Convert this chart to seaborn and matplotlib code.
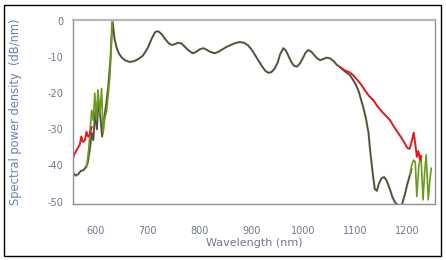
import numpy as np
import pandas as pd
import matplotlib
matplotlib.use("Agg")
import matplotlib.pyplot as plt
from matplotlib.patches import Rectangle
import seaborn as sns

# ---------------- data ----------------
# main (dark) spectrum: wavelength (nm) / spectral power density (dB/nm)
dark_wl = [556, 561, 566, 571, 576, 580, 584, 588, 592, 595, 599, 602, 605, 609, 612,
           616, 620, 624, 628, 630, 632, 636, 640, 645, 650, 657, 665, 673, 682, 691,
           700, 708, 714, 718, 722, 727, 733, 740, 746, 752, 758, 765, 772, 780, 787,
           793, 800, 807, 813, 820, 829, 836, 844, 852, 860, 868, 877, 885, 893, 900,
           907, 913, 920, 926, 932, 938, 944, 950, 955, 961, 966, 971, 976, 981, 987,
           993, 999, 1004, 1009, 1015, 1021, 1027, 1032, 1038, 1044, 1051, 1058, 1064,
           1070, 1076, 1082, 1089, 1095, 1100, 1106, 1111, 1115, 1120, 1125, 1128, 1133,
           1137, 1141, 1145, 1150, 1155, 1160, 1166, 1171, 1176, 1182, 1189, 1195, 1200,
           1205, 1208]
dark_db = [-42.0, -42.8, -42.4, -41.5, -41.3, -40.6, -39.5, -36.0, -31.0, -33.0, -25.0,
           -30.0, -22.0, -27.0, -32.0, -27.0, -23.0, -18.0, -11.0, -5.0, 0.0, -5.0, -7.5,
           -9.2, -10.2, -11.0, -11.4, -11.2, -10.6, -9.6, -7.5, -4.8, -3.2, -2.9, -3.1,
           -3.8, -5.0, -6.2, -6.7, -6.5, -6.1, -6.3, -7.3, -8.4, -9.0, -8.6, -7.9, -7.6,
           -8.0, -8.6, -9.0, -8.6, -7.9, -7.2, -6.7, -6.2, -5.9, -6.1, -6.8, -8.0, -9.6,
           -11.0, -12.6, -13.8, -14.4, -14.2, -13.3, -11.6, -9.2, -7.6, -8.3, -9.8, -11.3,
           -12.4, -12.7, -11.8, -10.2, -8.8, -8.1, -8.6, -9.6, -10.5, -10.9, -10.6, -10.2,
           -10.4, -11.2, -12.2, -12.8, -13.6, -14.3, -15.0, -16.3, -17.5, -19.5, -22.0,
           -24.0, -27.0, -31.0, -35.7, -42.0, -46.5, -47.0, -45.0, -43.5, -43.2, -44.2,
           -46.5, -48.7, -50.2, -51.0, -51.0, -48.0, -45.0, -42.5, -41.0]

# green spectrum: short-wavelength edge and long-wavelength tail
green_left_wl = [582, 586, 589, 592, 595, 598, 601, 604, 608, 611, 614, 617, 621, 624, 627, 630, 632]
green_left_db = [-40.5, -36.0, -30.0, -24.7, -27.5, -20.0, -27.5, -19.1, -25.6, -18.7,
                 -31.1, -27.0, -24.7, -20.0, -15.5, -6.0, 0.0]
green_right_wl = [1205, 1208, 1212, 1215, 1218, 1222, 1226, 1230, 1233, 1236, 1240, 1243, 1246]
green_right_db = [-42.5, -40.0, -38.5, -39.0, -48.6, -40.0, -37.1, -49.5, -42.0, -37.0,
                  -49.5, -44.0, -40.7]

# red spectrum: short-wavelength edge and slow long-wavelength decay
red_left_wl = [556, 559, 563, 566, 569, 572, 575, 579, 582, 585, 588, 592]
red_left_db = [-38.0, -36.8, -35.7, -35.0, -34.3, -32.0, -33.5, -33.0, -30.7, -32.0, -31.6, -29.3]
red_right_wl = [1070, 1080, 1089, 1095, 1100, 1109, 1118, 1126, 1134, 1142, 1150, 1158,
                1166, 1174, 1182, 1189, 1195, 1200, 1204, 1208, 1212, 1215, 1218, 1221,
                1224, 1227]
red_right_db = [-12.8, -13.8, -14.3, -15.0, -15.8, -17.3, -19.2, -20.8, -21.9, -23.6,
                -25.0, -26.2, -27.4, -29.3, -31.0, -32.5, -33.9, -35.2, -35.4, -33.5,
                -30.9, -34.0, -37.6, -36.0, -38.5, -37.5]

x_ticks = [600, 700, 800, 900, 1000, 1100, 1200]
y_ticks = [0, -10, -20, -30, -40, -50]
x_label = "Wavelength (nm)"
y_label = "Spectral power density  (dB/nm)"

# ---------------- long-form table ----------------
frames = []
for series, segs in [("dark", [(dark_wl, dark_db)]),
                     ("green", [(green_left_wl, green_left_db), (green_right_wl, green_right_db)]),
                     ("red", [(red_left_wl, red_left_db), (red_right_wl, red_right_db)])]:
    for i, (wl, db) in enumerate(segs):
        frames.append(pd.DataFrame({"wavelength": wl, "density": db,
                                    "series": series, "segment": i}))
df = pd.concat(frames, ignore_index=True)

# ---------------- figure ----------------
sns.set_style("white")
plt.rcParams["font.family"] = ["DejaVu Sans"]

W, H = 446, 260
fig = plt.figure(figsize=(W / 100, H / 100), dpi=100)
ax = fig.add_axes([73 / W, 1 - 204 / H, (435 - 73) / W, (204 - 19.5) / H])

d = df[df.series == "dark"]
sns.lineplot(data=d, x="wavelength", y="density", units="segment", estimator=None,
             sort=False, color="#e2de9c", lw=2.0, alpha=0.55, ax=ax, legend=False)
sns.lineplot(data=d, x="wavelength", y="density", units="segment", estimator=None,
             sort=False, color="#4c4c48", lw=1.3, ax=ax, legend=False)
sns.lineplot(data=df[df.series == "green"], x="wavelength", y="density", units="segment",
             estimator=None, sort=False, color="#6a9a1e", lw=1.2, ax=ax, legend=False)
sns.lineplot(data=df[df.series == "red"], x="wavelength", y="density", units="segment",
             estimator=None, sort=False, color="#e01a1a", lw=1.4, ax=ax, legend=False)

ax.set_xlim(556, 1253)
ax.set_ylim(-50.64, 0.33)
ax.set_xticks(x_ticks)
ax.set_yticks(y_ticks)
ax.set_xticklabels([str(v) for v in x_ticks])
ax.set_yticklabels([str(v) for v in y_ticks])

spine_col = "#8c929c"
for s in ax.spines.values():
    s.set_color(spine_col)
    s.set_linewidth(1.0)
ax.spines["top"].set_color("#b4b8be")
ax.spines["top"].set_linewidth(1.6)

lab_col = "#6f7890"
ax.tick_params(axis="both", direction="out", length=5, width=0.9, color=spine_col,
               labelsize=7, labelcolor=lab_col, pad=2)
ax.tick_params(axis="x", pad=11)
ax.set_xlabel(x_label, fontsize=8, color=lab_col, labelpad=1)
ax.set_ylabel(y_label, fontsize=8.3, color="#6a80b0", labelpad=18)

fig.patches.append(Rectangle((4 / W, 4 / H), (441 - 4) / W, (255 - 4) / H,
                             transform=fig.transFigure, fill=False, ec="black", lw=1.0))

fig.savefig("out.png", dpi=100, facecolor="white")
